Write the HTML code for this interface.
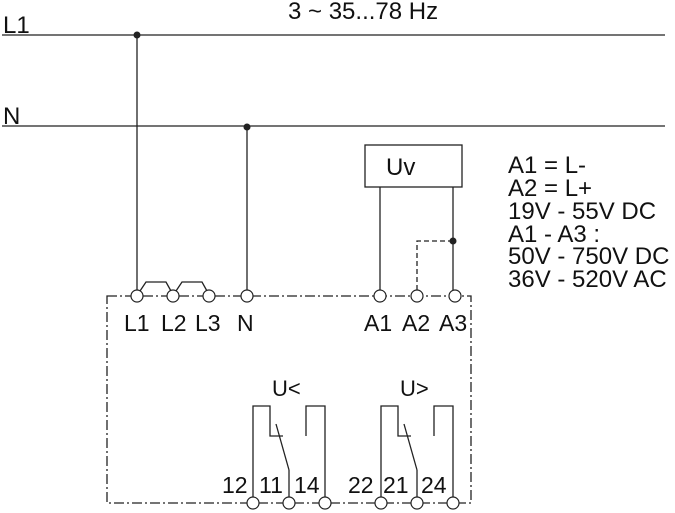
<!DOCTYPE html>
<html><head><style>
body{margin:0;background:#fff;}
svg{display:block;}
text{font-family:"Liberation Sans",Arial,sans-serif;fill:#111;}
</style></head><body>
<svg width="675" height="513" viewBox="0 0 675 513" xmlns="http://www.w3.org/2000/svg">
<g stroke="#222" stroke-width="1.3" fill="none">
<line x1="2" y1="35" x2="665" y2="35"/>
<line x1="2" y1="126" x2="665" y2="126"/>
<line x1="137" y1="35" x2="137" y2="290"/>
<line x1="247" y1="126" x2="247" y2="290"/>
<rect x="365" y="145" width="97" height="42"/>
<line x1="380" y1="187" x2="380" y2="290"/>
<line x1="453" y1="187" x2="453" y2="290"/>
<polyline points="417,290 417,241 453,241" stroke-dasharray="5,3"/>
<rect x="107" y="296" width="364" height="207" stroke-dasharray="10,3,2,3"/>
<polyline points="140,291 146,282 166,282 171,291"/>
<polyline points="176,291 182,282 202,282 207,291"/>
<polyline points="253,497 253,406 270,406 270,436 283,436"/>
<line x1="276" y1="424" x2="289" y2="470"/>
<line x1="289" y1="470" x2="289" y2="497"/>
<polyline points="306,436 306,406 325,406 325,497"/>
<polyline points="381,497 381,406 398,406 398,436 411,436"/>
<line x1="404" y1="424" x2="417" y2="470"/>
<line x1="417" y1="470" x2="417" y2="497"/>
<polyline points="434,436 434,406 453,406 453,497"/>
</g>
<g stroke="#222" stroke-width="1.2" fill="#fff">
<circle cx="137" cy="296" r="6"/><circle cx="173" cy="296" r="6"/><circle cx="209" cy="296" r="6"/><circle cx="247" cy="296" r="6"/>
<circle cx="380" cy="296" r="6"/><circle cx="417" cy="296" r="6"/><circle cx="455" cy="296" r="6"/>
<circle cx="253" cy="503" r="6"/><circle cx="289" cy="503" r="6"/><circle cx="325" cy="503" r="6"/>
<circle cx="381" cy="503" r="6"/><circle cx="417" cy="503" r="6"/><circle cx="453" cy="503" r="6"/>
</g>
<g fill="#222">
<circle cx="137" cy="35" r="3.5"/><circle cx="247" cy="127" r="3.5"/><circle cx="453" cy="241" r="3.5"/>
</g>
<g font-size="24">
<text x="3" y="33">L1</text>
<text x="3" y="124">N</text>
<text x="288" y="19">3 ~ 35...78 Hz</text>
<text x="386" y="175">Uv</text>
<text x="508" y="173">A1 = L-</text>
<text x="508" y="196">A2 = L+</text>
<text x="508" y="219">19V - 55V DC</text>
<text x="508" y="242">A1 - A3 :</text>
<text x="508" y="264">50V - 750V DC</text>
<text x="508" y="287">36V - 520V AC</text>
</g>
<g font-size="23">
<text x="124" y="331">L1</text><text x="161" y="331">L2</text><text x="195" y="331">L3</text><text x="237" y="331">N</text>
<text x="364" y="331">A1</text><text x="402" y="331">A2</text><text x="439" y="331">A3</text>
<text x="272" y="396" font-size="22">U&lt;</text><text x="400" y="396" font-size="22">U&gt;</text>
</g>
<g font-size="23">
<text x="222" y="493">12</text><text x="259" y="493">11</text><text x="294" y="493">14</text>
<text x="348" y="493">22</text><text x="383" y="493">21</text><text x="421" y="493">24</text>
</g>
</svg>
</body></html>
